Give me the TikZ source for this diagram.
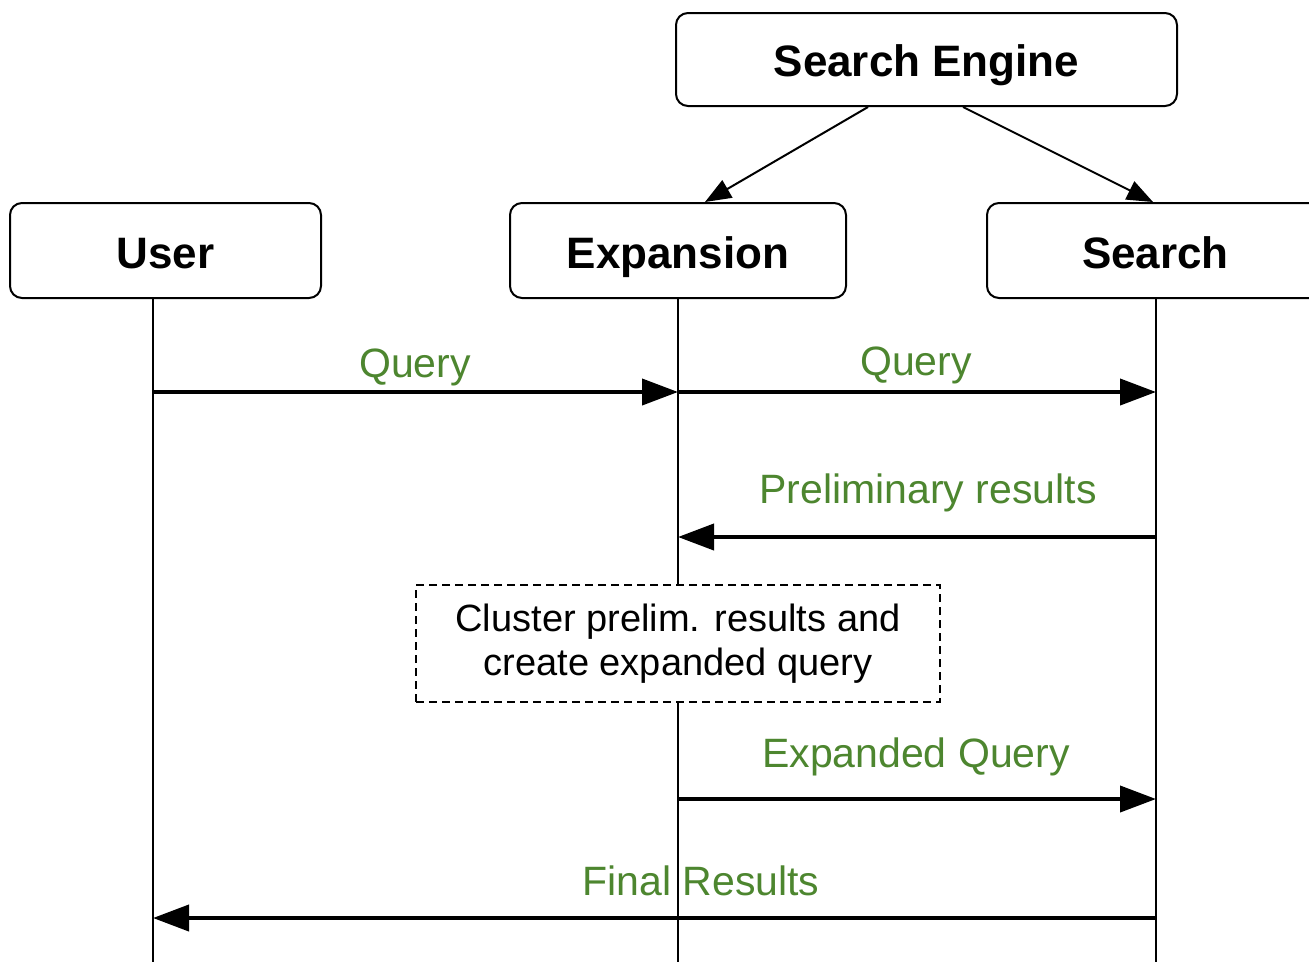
\documentclass[tikz,border=0pt]{standalone}
\usepackage{fontspec}
\setmainfont{Liberation Sans}
\usetikzlibrary{arrows.meta}
\definecolor{lblgreen}{RGB}{77,134,47}
\tikzset{
  actor/.style={draw, line width=2pt, rounded corners=12pt, fill=white, minimum height=95pt,
    font=\fontsize{44}{50}\selectfont\bfseries, inner sep=0pt, text height=36pt, text depth=1pt},
  life/.style={line width=2pt},
  msg/.style={line width=4pt, -{Triangle[length=36pt,width=26pt]}},
  lbl/.style={text=lblgreen, font=\fontsize{41}{46}\selectfont, inner sep=0pt, anchor=base},
  note/.style={draw, line width=1.5pt, dash pattern=on 8pt off 5pt, fill=white,
    minimum width=524pt, minimum height=117pt, align=center,
    font=\fontsize{38}{44}\selectfont, inner sep=0pt},
  sub/.style={line width=2pt, -{Triangle[length=26pt,width=20pt]}}
}
\begin{document}
\begin{tikzpicture}[x=1pt,y=-1pt]
\useasboundingbox (0,0) rectangle (1309,962);
\clip (0,0) rectangle (1309,962);
\fill[white] (0,0) rectangle (1309,962);
% actor boxes
\node[actor, minimum width=501pt, minimum height=93pt, text height=34pt] (engine) at (926.5,59.5) {Search Engine};
\node[actor, minimum width=311pt] (user) at (165.5,250.5) {User};
\node[actor, minimum width=336pt] (exp) at (678,250.5) {Expansion};
\node[actor, minimum width=337pt] (search) at (1155.5,250.5) {Search};
% arrows from Search Engine
\coordinate (se1) at (868,107);
\coordinate (se2) at (963,107);
\coordinate (ex1) at (705,202);
\coordinate (sr1) at (1153,202);
\draw[sub] (se1) -- (ex1);
\draw[sub] (se2) -- (sr1);
% lifelines
\coordinate (uTop) at (153,298);
\coordinate (uBot) at (153,962);
\coordinate (eTop) at (678,298);
\coordinate (eBot) at (678,962);
\coordinate (sTop) at (1156,298);
\coordinate (sBot) at (1156,962);
\draw[life] (uTop) -- (uBot);
\draw[life] (eTop) -- (eBot);
\draw[life] (sTop) -- (sBot);
% message points
\coordinate (u1) at (153,392);
\coordinate (e1) at (678,392);
\coordinate (s1) at (1156,392);
\coordinate (e2) at (678,537);
\coordinate (s2) at (1156,537);
\coordinate (e3) at (678,799);
\coordinate (s3) at (1156,799);
\coordinate (u4) at (153,918);
\coordinate (s4) at (1156,918);
% messages
\draw[msg] (u1) -- (e1);
\draw[msg] (e1) -- (s1);
\draw[msg] (s2) -- (e2);
\draw[msg] (e3) -- (s3);
\draw[msg] (s4) -- (u4);
% labels
\node[lbl] (l1) at (415,377) {Query};
\node[lbl] (l2) at (916,375) {Query};
\node[lbl] (l3) at (928,503) {Preliminary results};
\node[lbl] (l4) at (916,767) {Expanded Query};
\node[lbl] (l5) at (701,895) {Final Results};
% note box
\node[note] (clus) at (678,643.5) {Cluster prelim. results and\\create expanded query};
\end{tikzpicture}
\end{document}
